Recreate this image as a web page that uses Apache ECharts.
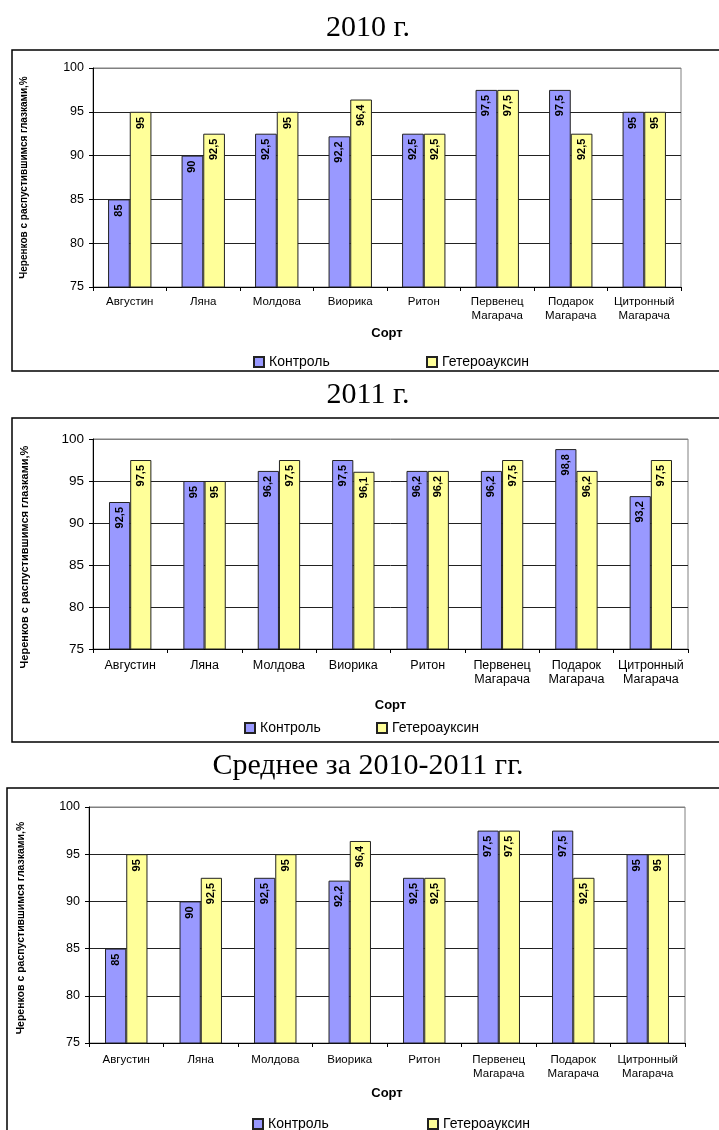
<!DOCTYPE html>
<html>
<head>
<meta charset="utf-8">
<script src="https://cdn.jsdelivr.net/npm/echarts@6/dist/echarts.min.js"></script>
<style>
  html, body { margin: 0; padding: 0; background: #fff; }
  #chart { width: 719px; height: 1130px; }
</style>
</head>
<body>
<div id="chart"></div>
<script>
// сорта винограда
const sorts = ['Августин', 'Ляна', 'Молдова', 'Виорика', 'Ритон',
  'Первенец\nМагарача', 'Подарок\nМагарача', 'Цитронный\nМагарача']
const seriesNames = ['Контроль', 'Гетероауксин']

const control2010 = [85, 90, 92.5, 92.2, 92.5, 97.5, 97.5, 95]
const hetero2010 = [95, 92.5, 95, 96.4, 92.5, 97.5, 92.5, 95]
const control2011 = [92.5, 95, 96.2, 97.5, 96.2, 96.2, 98.8, 93.2]
const hetero2011 = [97.5, 95, 97.5, 96.1, 96.2, 97.5, 96.2, 97.5]
const controlAvg = [85, 90, 92.5, 92.2, 92.5, 97.5, 97.5, 95]
const heteroAvg = [95, 92.5, 95, 96.4, 92.5, 97.5, 92.5, 95]

const titles = ['2010 г.', '2011 г.', 'Среднее за 2010-2011 гг.']
const yName = 'Черенков с распустившимся глазками,%'
const xName = 'Сорт'

const blocks = [
  { title: titles[0], control: control2010, hetero: hetero2010 },
  { title: titles[1], control: control2011, hetero: hetero2011 },
  { title: titles[2], control: controlAvg, hetero: heteroAvg }
]

// раскладка каждого блока (пиксели)
const layout = [
  { titleY: 28, frame: [12, 50, 760, 321], grid: [93, 68, 588, 219], fs: 11.5, yfs: 12.5, nfs: 10, nameGapY: 64, nameGapX: 40, lblMargin: 8,
    leg: [253, 426], legY: 355, catGap: '41%', namePad: [0, 0, 0, 0] },
  { titleY: 395, frame: [12, 418, 760, 324], grid: [93, 439, 595, 210], fs: 12.5, yfs: 13.5, nfs: 11, nameGapY: 63, nameGapX: 50, lblMargin: 10,
    leg: [244, 376], legY: 721, catGap: '43%', namePad: [0, 26, 0, 0] },
  { titleY: 766, frame: [7, 788, 760, 400], grid: [89, 807, 596, 236], fs: 11.5, yfs: 12.5, nfs: 10.5, nameGapY: 62, nameGapX: 44, lblMargin: 10,
    leg: [252, 427], legY: 1117, catGap: '43%', namePad: [0, 6, 0, 0] }
]

const colors = ['#9999FF', '#FFFF99']
const font = 'Liberation Sans, Arial, sans-serif'

const option = {
  animation: false,
  backgroundColor: '#fff',
  textStyle: { fontFamily: font, color: '#000' },
  grid: [],
  xAxis: [],
  yAxis: [],
  legend: [],
  series: [],
  graphic: []
}

blocks.forEach((b, i) => {
  const L = layout[i]
  option.graphic.push({
    type: 'rect',
    shape: { x: L.frame[0], y: L.frame[1], width: L.frame[2], height: L.frame[3] },
    style: { fill: 'none', stroke: '#000', lineWidth: 1.5 },
    silent: true
  })
  option.graphic.push({
    type: 'text',
    x: 368,
    y: L.titleY,
    style: {
      text: b.title,
      font: '30px "Liberation Serif", "Times New Roman", serif',
      fill: '#000',
      align: 'center',
      verticalAlign: 'middle'
    },
    silent: true
  })
  option.grid.push({
    left: L.grid[0], top: L.grid[1], width: L.grid[2], height: L.grid[3],
    show: true, borderColor: '#808080', borderWidth: 1, backgroundColor: 'transparent'
  })
  option.xAxis.push({
    type: 'category',
    gridIndex: i,
    data: sorts,
    axisLine: { lineStyle: { color: '#000', width: 1 } },
    axisTick: { show: true, length: 4, lineStyle: { color: '#000' } },
    axisLabel: { interval: 0, color: '#000', fontSize: L.fs, lineHeight: 14, margin: L.lblMargin, fontFamily: font },
    name: xName,
    nameLocation: 'middle',
    nameGap: L.nameGapX,
    nameTextStyle: { fontWeight: 'bold', fontSize: 13, color: '#000', fontFamily: font }
  })
  option.yAxis.push({
    type: 'value',
    gridIndex: i,
    min: 75,
    max: 100,
    interval: 5,
    axisLine: { show: true, lineStyle: { color: '#000', width: 1 } },
    axisTick: { show: true, length: 4, lineStyle: { color: '#000' } },
    axisLabel: { color: '#000', fontSize: L.yfs, margin: 9, fontFamily: font },
    splitLine: { show: true, lineStyle: { color: ['#000', '#222', '#222', '#222', '#222', '#808080'], width: 1 } },
    name: yName,
    nameLocation: 'middle',
    nameRotate: 90,
    nameGap: L.nameGapY,
    nameTextStyle: { fontWeight: 'bold', fontSize: L.nfs, color: '#000', fontFamily: font, padding: L.namePad }
  })
  const vals = [b.control, b.hetero]
  seriesNames.forEach((name, k) => {
    option.series.push({
      type: 'bar',
      name: name,
      xAxisIndex: i,
      yAxisIndex: i,
      data: vals[k],
      barGap: '0%',
      barCategoryGap: L.catGap,
      itemStyle: { color: colors[k], borderColor: '#222', borderWidth: 1 },
      label: {
        show: true,
        position: 'insideTop',
        rotate: 90,
        align: 'right',
        verticalAlign: 'middle',
        distance: 5,
        color: '#000',
        fontWeight: 'bold',
        fontSize: 11,
        fontFamily: font,
        formatter: p => String(p.value).replace('.', ',')
      }
    })
    option.legend.push({
      data: [name],
      left: L.leg[k],
      top: L.legY,
      icon: 'rect',
      itemWidth: 10,
      itemHeight: 10,
      padding: 0,
      selectedMode: false,
      textStyle: { fontSize: 14, color: '#000', fontFamily: font }
    })
  })
})

const myChart = echarts.init(document.getElementById('chart'))
myChart.setOption(option)
</script>
</body>
</html>
